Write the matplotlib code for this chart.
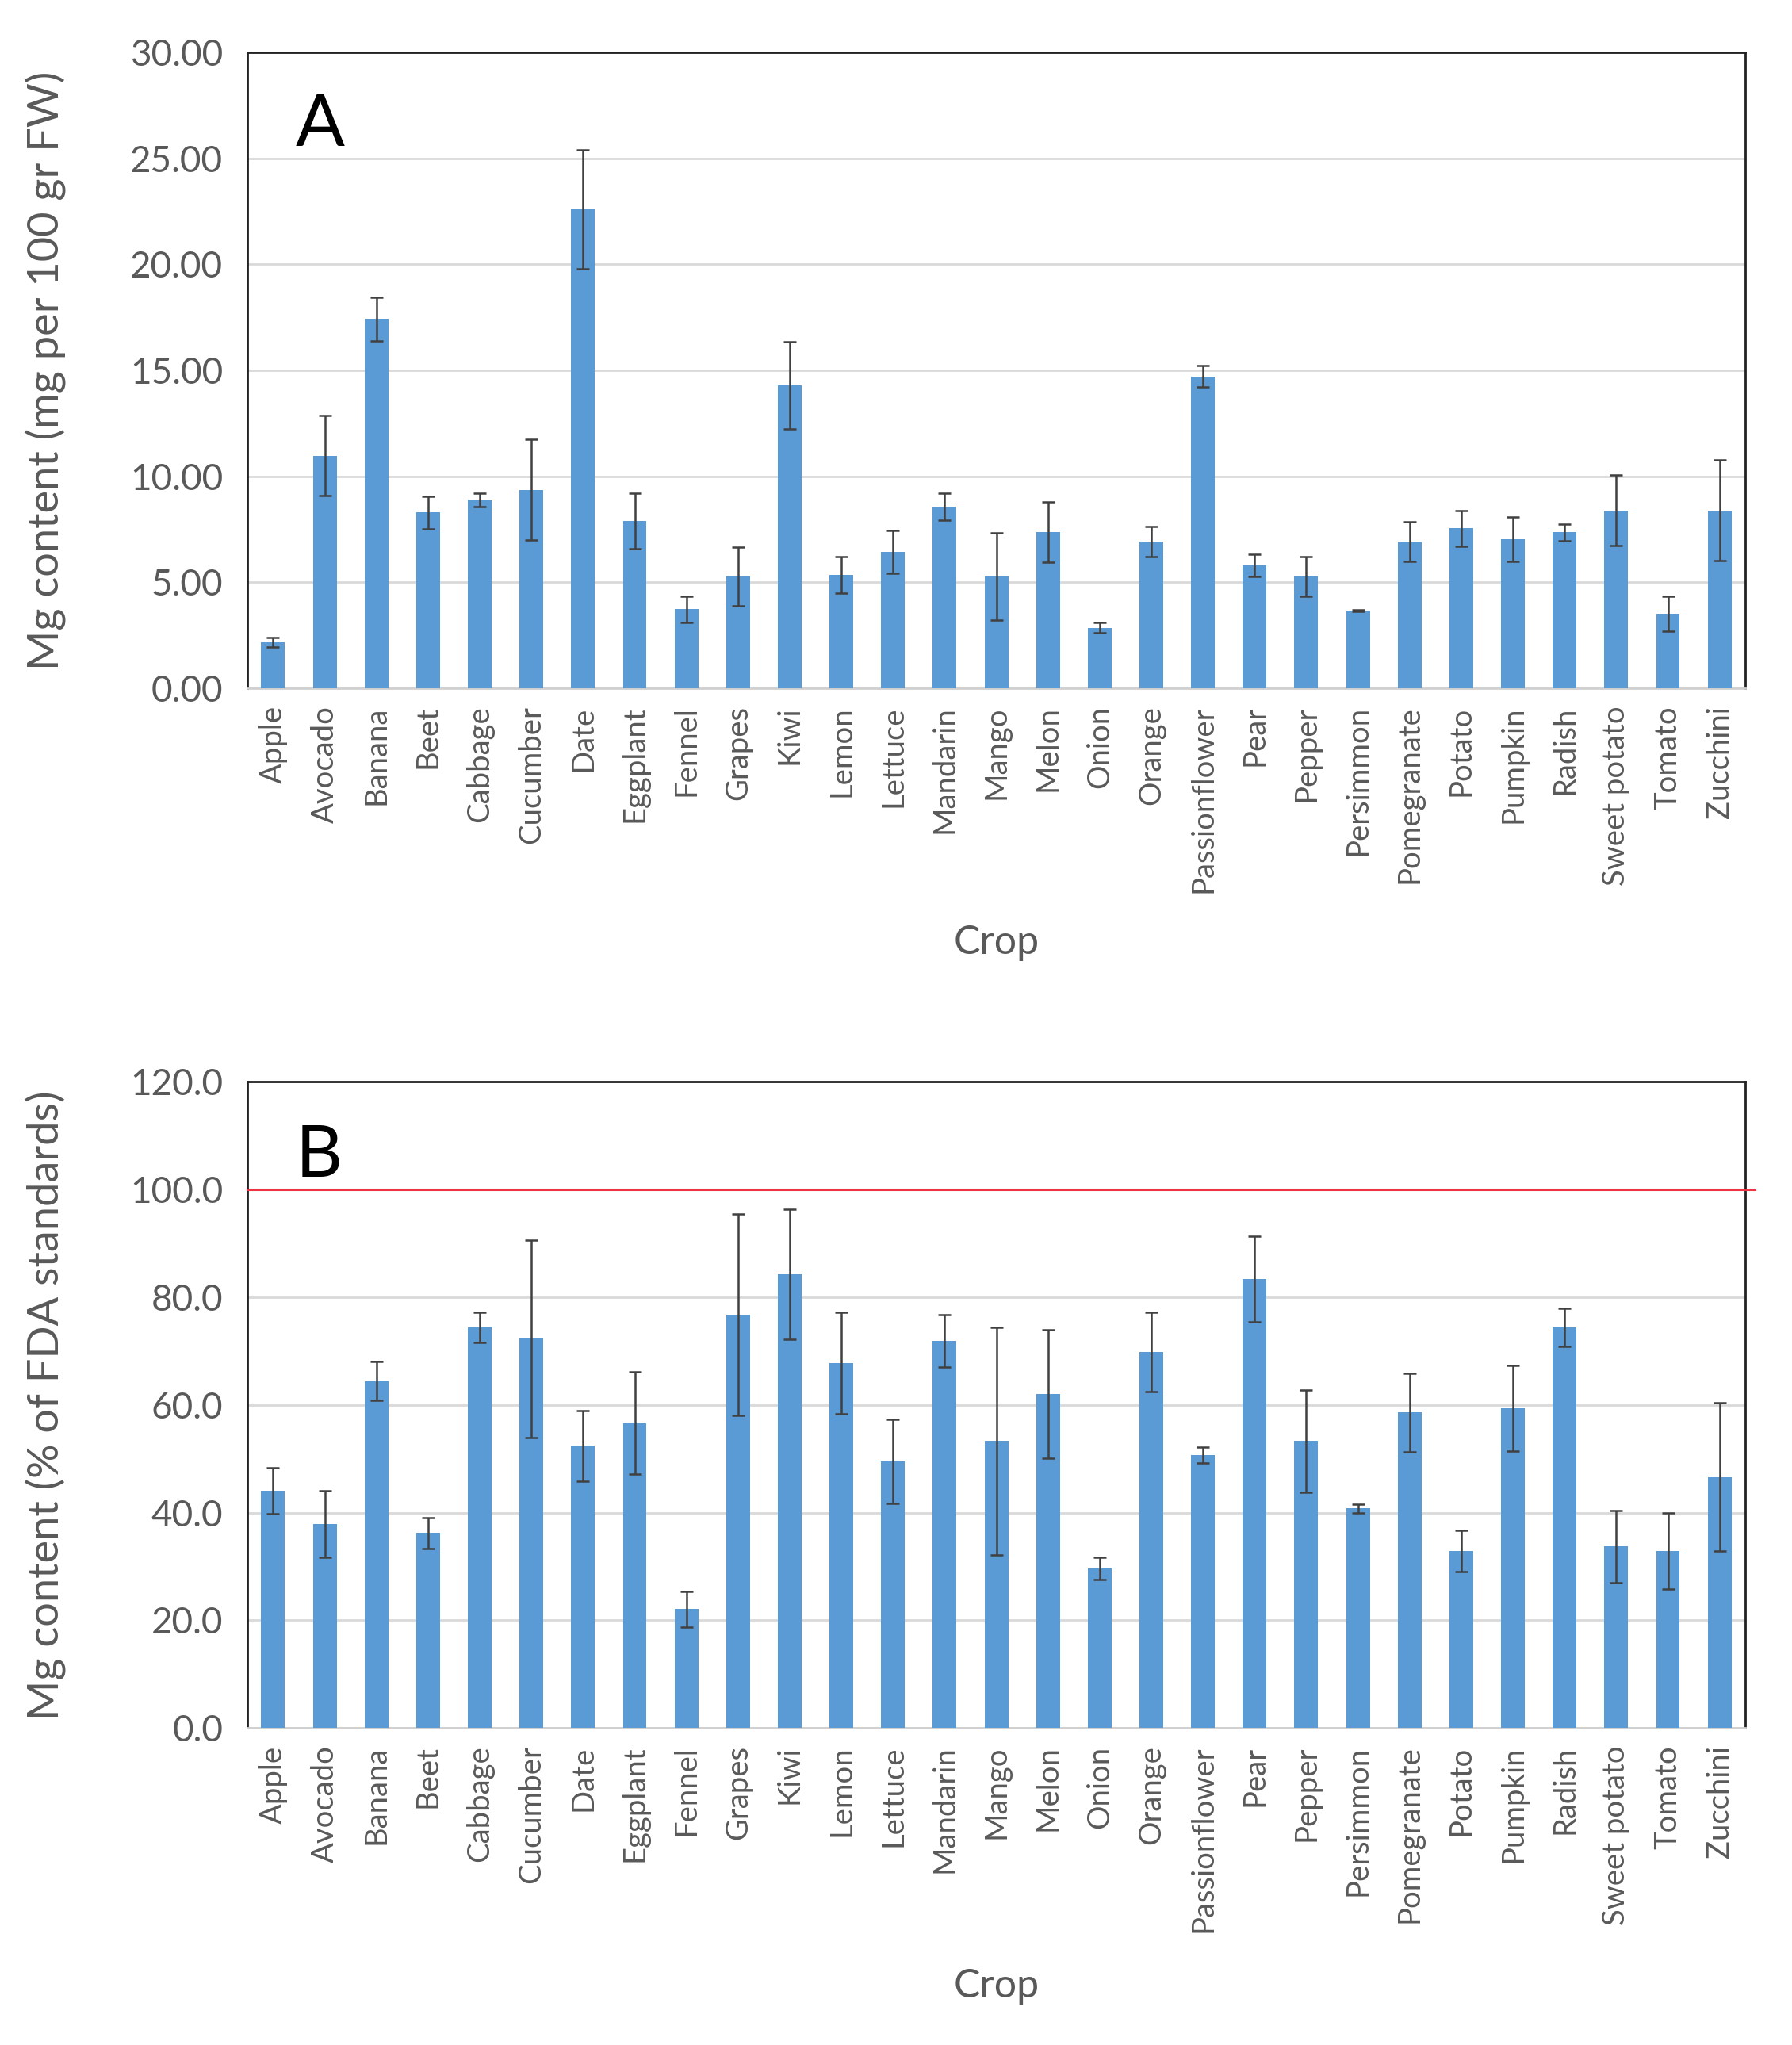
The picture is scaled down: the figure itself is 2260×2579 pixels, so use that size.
import matplotlib
matplotlib.use('Agg')
import matplotlib.pyplot as plt
import numpy as np

crops = ['Apple', 'Avocado', 'Banana', 'Beet', 'Cabbage', 'Cucumber', 'Date',
         'Eggplant', 'Fennel', 'Grapes', 'Kiwi', 'Lemon', 'Lettuce', 'Mandarin',
         'Mango', 'Melon', 'Onion', 'Orange', 'Passionflower', 'Pear', 'Pepper',
         'Persimmon', 'Pomegranate', 'Potato', 'Pumpkin', 'Radish', 'Sweet potato',
         'Tomato', 'Zucchini']

# panel A: mg per 100 g fresh weight
mg_fw = [2.17, 10.98, 17.42, 8.29, 8.89, 9.36, 22.6, 7.89, 3.73, 5.27, 14.3, 5.37,
         6.44, 8.57, 5.27, 7.36, 2.86, 6.93, 14.71, 5.8, 5.27, 3.67, 6.93, 7.55,
         7.04, 7.36, 8.4, 3.52, 8.4]
mg_fw_err = [0.22, 1.9, 1.02, 0.75, 0.32, 2.37, 2.8, 1.32, 0.62, 1.38, 2.05, 0.86,
             1.02, 0.64, 2.06, 1.42, 0.23, 0.72, 0.51, 0.51, 0.93, 0.05, 0.94, 0.85,
             1.06, 0.4, 1.66, 0.83, 2.39]

# panel B: % of FDA standards
mg_fda = [44.1, 37.9, 64.4, 36.2, 74.4, 72.3, 52.4, 56.6, 22.1, 76.8, 84.3, 67.8,
          49.5, 71.9, 53.3, 62.0, 29.6, 69.8, 50.7, 83.4, 53.3, 40.8, 58.6, 32.9,
          59.4, 74.4, 33.7, 32.9, 46.6]
mg_fda_err = [4.3, 6.2, 3.6, 2.9, 2.8, 18.3, 6.6, 9.5, 3.3, 18.7, 12.1, 9.4, 7.8,
              4.9, 21.1, 11.9, 2.1, 7.4, 1.5, 7.9, 9.5, 0.8, 7.3, 3.8, 8.0, 3.6,
              6.7, 7.1, 13.8]

fda_line = 100

bar_color = '#5B9BD5'
text_color = '#595959'
plt.rcParams['font.family'] = ['Lato', 'DejaVu Sans']

fig = plt.figure(figsize=(22.6, 25.79), dpi=100)
axA = fig.add_axes([0.138, 0.6634, 0.836, 0.311])
axB = fig.add_axes([0.138, 0.155, 0.836, 0.316])

x = np.arange(len(crops))


def draw_panel(ax, vals, errs, ymax, step, fmt, ylabel, letter):
    ax.bar(x, vals, width=0.46, color=bar_color, zorder=3,
           yerr=errs, error_kw=dict(ecolor='#404040', elinewidth=1.8,
                                    capsize=6, capthick=1.8, zorder=4))
    ax.set_xlim(-0.5, len(crops) - 0.5)
    ax.set_ylim(0, ymax)
    ticks = np.arange(0, ymax + step / 2, step)
    ax.set_yticks(ticks)
    ax.set_yticklabels([fmt.format(t) for t in ticks], fontsize=33, color=text_color)
    ax.set_xticks(x)
    ax.set_xticklabels(crops, rotation=90, fontsize=27.5, color=text_color)
    ax.tick_params(axis='both', length=0)
    ax.tick_params(axis='y', pad=22)
    ax.tick_params(axis='x', pad=16)
    ax.yaxis.grid(True, color='#D9D9D9', linewidth=2, zorder=0)
    ax.set_axisbelow(True)
    for side in ['top', 'left', 'right']:
        ax.spines[side].set_color('#222222')
        ax.spines[side].set_linewidth(2)
    ax.spines['bottom'].set_color('#D0D0D0')
    ax.spines['bottom'].set_linewidth(2)
    ax.set_ylabel(ylabel, fontsize=39, color=text_color)
    ax.yaxis.set_label_coords(-0.121, 0.5)
    ax.set_xlabel('Crop', fontsize=36, color=text_color)
    ax.xaxis.set_label_coords(0.5, -0.372)
    ax.text(0.032, 0.885, letter, transform=ax.transAxes, fontsize=66,
            color='black', va='center', ha='left')


draw_panel(axA, mg_fw, mg_fw_err, 30, 5, '{:.2f}',
           'Mg content (mg per 100 gr FW)', 'A')
draw_panel(axB, mg_fda, mg_fda_err, 120, 20, '{:.1f}',
           'Mg content (% of FDA standards)', 'B')

axB.axhline(fda_line, xmin=0, xmax=1.006, color='#EE3344', linewidth=2.2,
            zorder=5, clip_on=False)

fig.savefig('out.png', dpi=100, facecolor='white')
